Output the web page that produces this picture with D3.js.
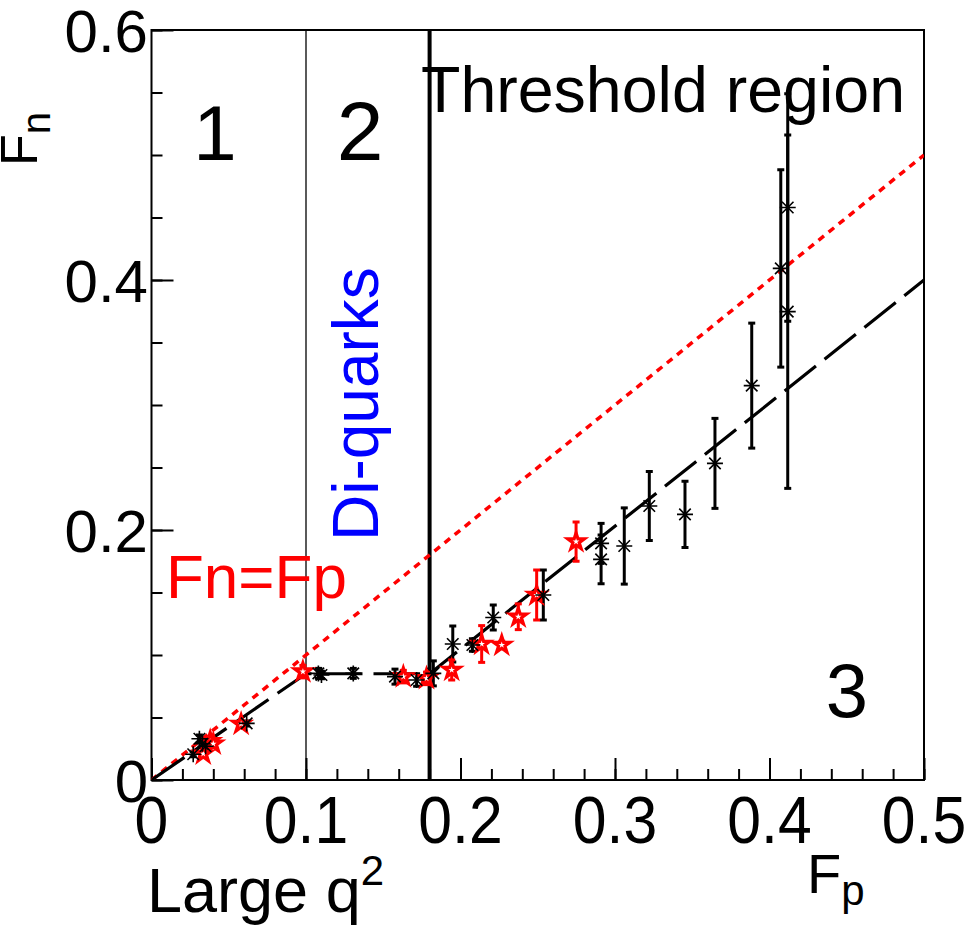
<!DOCTYPE html>
<html>
<head>
<meta charset="utf-8">
<script src="https://cdn.jsdelivr.net/npm/d3@7"></script>
<style>
  body { margin: 0; background: #fff; }
  svg { display: block; }
  text { font-family: "Liberation Sans", Arial, Helvetica, sans-serif; }
</style>
</head>
<body>
<svg id="chart" width="965" height="929"></svg>
<script>
// Axis ticks
const xMajorTicks = [0, 0.1, 0.2, 0.3, 0.4, 0.5];
const xTickLabels = ["0", "0.1", "0.2", "0.3", "0.4", "0.5"];
const yMajorTicks = [0, 0.2, 0.4, 0.6];
const yTickLabels = ["0", "0.2", "0.4", "0.6"];

// Neutron vs proton form factor data, set A (black asterisks)
const blackFp  = [0.027, 0.031, 0.033, 0.035, 0.0616, 0.108, 0.110, 0.1306, 0.1576, 0.1716, 0.1824,
                  0.195, 0.2077, 0.2212, 0.2536, 0.291, 0.291, 0.306, 0.3222, 0.3453, 0.3647,
                  0.3885, 0.4073, 0.4118, 0.4118];
const blackFn  = [0.0206, 0.033, 0.029, 0.027, 0.0453, 0.0853, 0.084, 0.0853, 0.0827, 0.080, 0.0853,
                  0.1088, 0.108, 0.130, 0.148, 0.1893, 0.1765, 0.1872, 0.2192, 0.2125, 0.2533,
                  0.3155, 0.4093, 0.458, 0.3747];
const blackErr = [0.002, 0.003, 0.003, 0.002, 0.002, 0.004, 0.003, 0.004, 0.006, 0.005, 0.010,
                  0.0144, 0.005, 0.010, 0.020, 0.016, 0.0195, 0.0305, 0.0276, 0.0265, 0.036,
                  0.050, 0.079, 0.091, 0.1414];

// Set B (red open stars)
const redFp  = [0.0335, 0.038, 0.040, 0.058, 0.098, 0.163, 0.178, 0.1943, 0.2137, 0.2267, 0.2374, 0.2493, 0.2748];
const redFn  = [0.021, 0.031, 0.029, 0.0448, 0.0867, 0.0827, 0.0813, 0.088, 0.1088, 0.108, 0.1306, 0.148, 0.1907];
const redErr = [0.002, 0.002, 0.002, 0.002, 0.005, 0.005, 0.005, 0.008, 0.0147, 0.003, 0.0103, 0.020, 0.0157];

// Piecewise model curve
const modelFp = [0, 0.1, 0.18, 0.5];
const modelFn = [0, 0.085, 0.085, 0.4];

// Fn = Fp reference line
const diagFp = [0, 0.5];
const diagFn = [0, 0.5];

// Region boundaries in Fp
const regionBounds = [0.1, 0.18];

const svg = d3.select("#chart");
const L = 151.5, R = 924, T = 30, B = 780;
const x = d3.scaleLinear().domain([0, 0.5]).range([L, R]);
const y = d3.scaleLinear().domain([0, 0.6]).range([B, T]);

svg.append("rect").attr("width", 965).attr("height", 929).attr("fill", "#fff");

// Clip to frame for data marks
svg.append("clipPath").attr("id", "frame")
  .append("rect").attr("x", L).attr("y", T).attr("width", R - L).attr("height", B - T);

// Minor + major ticks (inward)
const xMinor = d3.range(0, 0.5001, 0.02);
const yMinor = d3.range(0, 0.6001, 0.05);
svg.append("g").attr("transform", `translate(0,${B})`)
  .call(d3.axisBottom(x).tickValues(xMinor).tickSize(-11).tickFormat(""))
  .call(g => g.select(".domain").remove())
  .selectAll("line").attr("stroke", "#000").attr("stroke-width", 2);
svg.append("g").attr("transform", `translate(0,${B})`)
  .call(d3.axisBottom(x).tickValues(xMajorTicks).tickSize(-22).tickFormat(""))
  .call(g => g.select(".domain").remove())
  .selectAll("line").attr("stroke", "#000").attr("stroke-width", 2);
svg.append("g").attr("transform", `translate(${L},0)`)
  .call(d3.axisLeft(y).tickValues(yMinor).tickSize(-11).tickFormat(""))
  .call(g => g.select(".domain").remove())
  .selectAll("line").attr("stroke", "#000").attr("stroke-width", 2);
svg.append("g").attr("transform", `translate(${L},0)`)
  .call(d3.axisLeft(y).tickValues(yMajorTicks).tickSize(-22).tickFormat(""))
  .call(g => g.select(".domain").remove())
  .selectAll("line").attr("stroke", "#000").attr("stroke-width", 2);

// Tick labels
svg.append("g").selectAll("text").data(xMajorTicks).join("text")
  .attr("transform", d => `translate(${x(d)},843) scale(0.92,1)`)
  .attr("text-anchor", "middle").attr("font-size", 66)
  .text((d, i) => xTickLabels[i]);
svg.append("g").selectAll("text").data(yMajorTicks).join("text")
  .attr("x", 148).attr("y", d => y(d) + 22)
  .attr("text-anchor", "end").attr("font-size", 60)
  .text((d, i) => yTickLabels[i]);

// Frame
svg.append("rect").attr("x", L).attr("y", T).attr("width", R - L).attr("height", B - T)
  .attr("fill", "none").attr("stroke", "#000").attr("stroke-width", 2);

// Region boundaries
svg.append("line").attr("x1", x(regionBounds[0])).attr("x2", x(regionBounds[0]))
  .attr("y1", T).attr("y2", B).attr("stroke", "#000").attr("stroke-width", 1.3);
svg.append("line").attr("x1", x(regionBounds[1])).attr("x2", x(regionBounds[1]))
  .attr("y1", T).attr("y2", B).attr("stroke", "#000").attr("stroke-width", 4);

const plot = svg.append("g").attr("clip-path", "url(#frame)");
const line = d3.line().x(d => x(d[0])).y(d => y(d[1]));

// Fn = Fp dotted line
plot.append("path").datum(d3.zip(diagFp, diagFn)).attr("d", line)
  .attr("fill", "none").attr("stroke", "#ff0000").attr("stroke-width", 3.5)
  .attr("stroke-dasharray", "7,6");

// Model curve (long dashes)
plot.append("path").datum(d3.zip(modelFp, modelFn)).attr("d", line)
  .attr("fill", "none").attr("stroke", "#000").attr("stroke-width", 3.2)
  .attr("stroke-dasharray", "40,11");

// Error bars
function errorBars(g, xs, ys, es, color) {
  const data = d3.zip(xs, ys, es);
  const eg = g.append("g").attr("stroke", color).attr("stroke-width", 3);
  eg.selectAll("line.bar").data(data).join("line").attr("class", "bar")
    .attr("x1", d => x(d[0])).attr("x2", d => x(d[0]))
    .attr("y1", d => y(d[1] - d[2])).attr("y2", d => y(d[1] + d[2]));
  eg.selectAll("line.lo").data(data).join("line").attr("class", "lo")
    .attr("x1", d => x(d[0]) - 3.5).attr("x2", d => x(d[0]) + 3.5)
    .attr("y1", d => y(d[1] - d[2])).attr("y2", d => y(d[1] - d[2]));
  eg.selectAll("line.hi").data(data).join("line").attr("class", "hi")
    .attr("x1", d => x(d[0]) - 3.5).attr("x2", d => x(d[0]) + 3.5)
    .attr("y1", d => y(d[1] + d[2])).attr("y2", d => y(d[1] + d[2]));
}
errorBars(plot, blackFp, blackFn, blackErr, "#000");
errorBars(plot, redFp, redFn, redErr, "#ff0000");

// Red open-star markers
const star = d3.symbol().type(d3.symbolStar).size(85);
plot.append("g").selectAll("path").data(d3.zip(redFp, redFn)).join("path")
  .attr("transform", d => `translate(${x(d[0])},${y(d[1])})`)
  .attr("d", star).attr("fill", "#fff").attr("stroke", "#ff0000").attr("stroke-width", 3.2);

// Black asterisk markers
const s = 8;
const ast = `M${-s},0L${s},0M0,${-s}L0,${s}M${-s*0.72},${-s*0.72}L${s*0.72},${s*0.72}M${-s*0.72},${s*0.72}L${s*0.72},${-s*0.72}`;
plot.append("g").selectAll("path").data(d3.zip(blackFp, blackFn)).join("path")
  .attr("transform", d => `translate(${x(d[0])},${y(d[1])})`)
  .attr("d", ast).attr("fill", "none").attr("stroke", "#000").attr("stroke-width", 1.6);

// Region and curve annotations
svg.append("text").attr("x", 215).attr("y", 160).attr("text-anchor", "middle").attr("font-size", 78).text("1");
svg.append("text").attr("x", 360).attr("y", 160).attr("text-anchor", "middle").attr("font-size", 84).text("2");
svg.append("text").attr("x", 847).attr("y", 717).attr("text-anchor", "middle").attr("font-size", 76).text("3");
svg.append("text").attr("x", 421).attr("y", 112).attr("font-size", 64.5).text("Threshold region");
svg.append("text").attr("transform", "translate(378,541) rotate(-90)")
  .attr("font-size", 64).attr("fill", "#0000ff").text("Di-quarks");
svg.append("text").attr("x", 166).attr("y", 598).attr("font-size", 62).attr("fill", "#ff0000").text("Fn=Fp");

// Axis titles
const yt = svg.append("text").attr("transform", "translate(37,166) rotate(-90)").attr("font-size", 52);
yt.append("tspan").text("F");
yt.append("tspan").attr("dy", 13).attr("font-size", 40).text("n");
const xt = svg.append("text").attr("x", 807).attr("y", 893).attr("font-size", 56);
xt.append("tspan").text("F");
xt.append("tspan").attr("dy", 12).attr("font-size", 42).text("p");
const lq = svg.append("text").attr("x", 147).attr("y", 912).attr("font-size", 63);
lq.append("tspan").text("Large q");
lq.append("tspan").attr("dy", -27).attr("font-size", 42).text("2");
</script>
</body>
</html>
